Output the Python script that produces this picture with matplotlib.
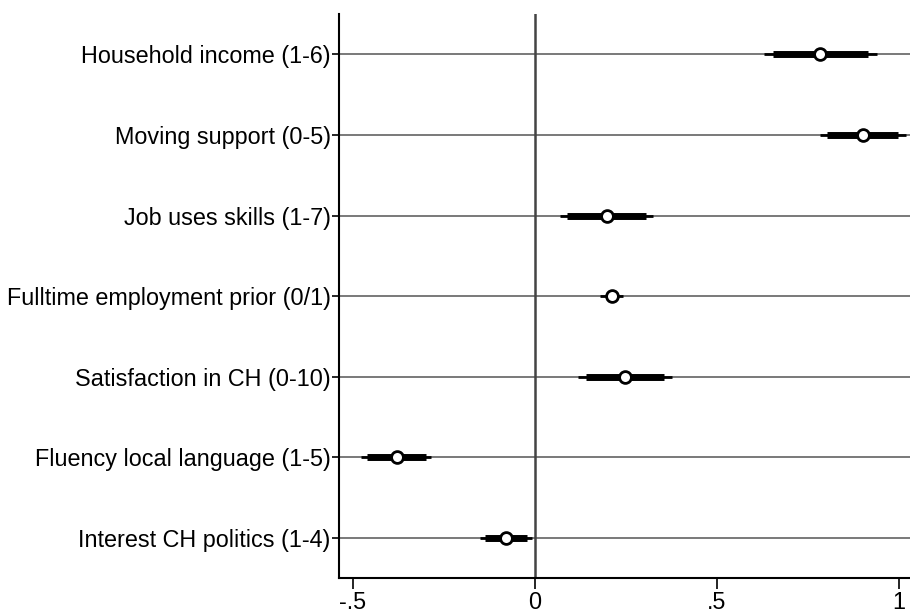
import matplotlib.pyplot as plt
import numpy as np

plt.rcParams['font.family'] = ['Liberation Sans', 'DejaVu Sans']

labels = ['Household income (1-6)', 'Moving support (0-5)', 'Job uses skills (1-7)',
          'Fulltime employment prior (0/1)', 'Satisfaction in CH (0-10)',
          'Fluency local language (1-5)', 'Interest CH politics (1-4)']
coef = [0.783, 0.901, 0.198, 0.211, 0.247, -0.380, -0.080]
ci90_lo = [0.654, 0.802, 0.088, 0.198, 0.140, -0.462, -0.137]
ci90_hi = [0.915, 0.997, 0.305, 0.228, 0.354, -0.300, -0.022]
ci95_lo = [0.629, 0.783, 0.069, 0.179, 0.118, -0.478, -0.151]
ci95_hi = [0.940, 1.019, 0.324, 0.242, 0.376, -0.284, -0.008]

ypos = np.arange(len(labels), 0, -1)

fig = plt.figure(figsize=(9.1, 6.13), dpi=100)
ax = fig.add_axes([0.3725, 0.057, 0.6275, 0.92])

for y in ypos:
    ax.axhline(y, color='#555555', lw=1.1, zorder=1)
ax.axvline(0, color='#444444', lw=1.8, zorder=1)

ax.hlines(ypos, ci95_lo, ci95_hi, color='black', lw=2, zorder=2)
ax.hlines(ypos, ci90_lo, ci90_hi, color='black', lw=5, zorder=3)
ax.plot(coef, ypos, 'o', ms=8.5, mfc='white', mec='black', mew=2, zorder=4)

ax.set_xlim(-0.538, 1.03)
ax.set_ylim(0.5, 7.5)
ax.set_yticks(ypos)
ax.set_yticklabels(labels, fontsize=16.8)
ax.set_xticks([-0.5, 0, 0.5, 1])
ax.set_xticklabels(['-.5', '0', '.5', '1'], fontsize=16.8)
ax.tick_params(axis='y', length=5, width=1.2, pad=1)
ax.tick_params(axis='x', length=8, width=1.2, pad=1)
ax.spines['top'].set_visible(False)
ax.spines['right'].set_visible(False)
ax.spines['left'].set_linewidth(1.5)
ax.spines['bottom'].set_linewidth(1.5)

plt.savefig('out.png', dpi=100)
